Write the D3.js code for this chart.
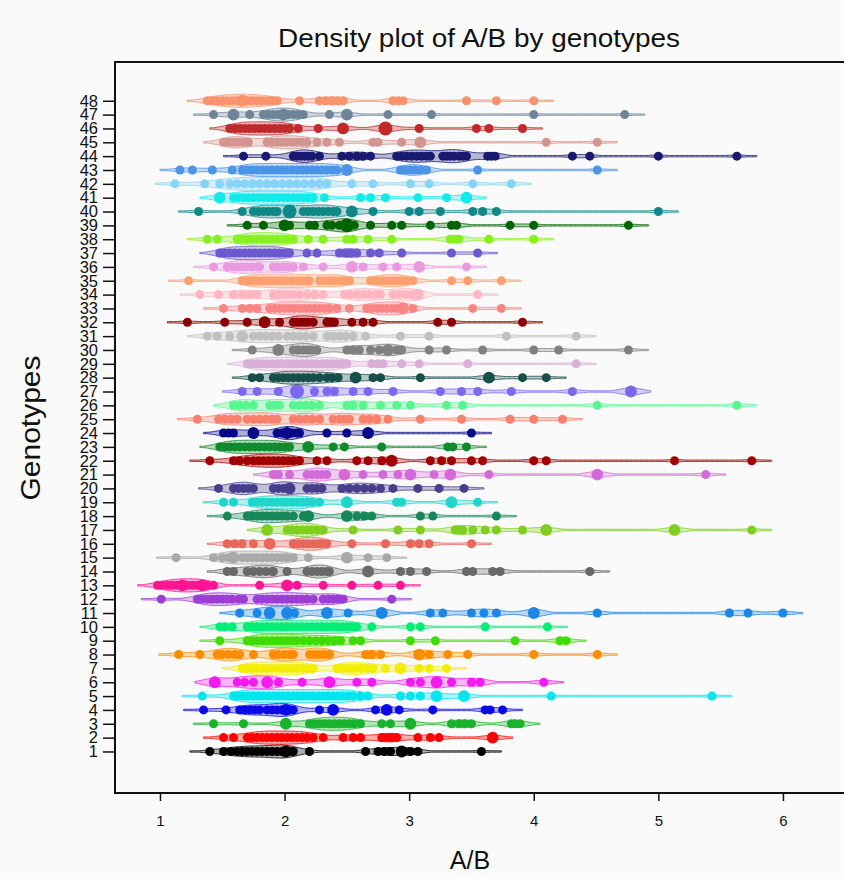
<!DOCTYPE html>
<html>
<head>
<meta charset="utf-8">
<script src="https://cdn.jsdelivr.net/npm/d3@7"></script>
<style>
  body { margin: 0; background: #fafafa; }
  svg { display: block; font-family: "Liberation Sans", Arial, sans-serif; }
</style>
</head>
<body>
<svg id="chart"></svg>
<script>
// tick labels
const genotypes = ['1','2','3','4','5','6','7','8','9','10','11','12','13','14','15','16',
  '17','18','19','20','21','22','23','24','25','26','27','28','29','30','31','32',
  '33','34','35','36','37','38','39','40','41','42','43','44','45','46','47','48']
const xTicks = [1, 2, 3, 4, 5, 6]

const colors = ['#000000','#ff0000','#19b22c','#0a0ae6','#00e5ee','#f51af0','#f2ee00','#ff8c00',
  '#3fdc00','#00ee76','#1c86e6','#9a3ed6','#ff1493','#696969','#a9a9a9','#e8665a',
  '#80cf20','#17875a','#20d5cc','#483d8b','#d46ad8','#a00000','#108a2c','#06088a',
  '#f8806c','#58f590','#7b68ee','#174e4a','#dab0d8','#808080','#c0c0c0','#8b0000',
  '#fa8585','#ffb6c1','#fda070','#ea9ae0','#6a5acd','#88f020','#006400','#118888',
  '#12eaea','#88d4f8','#4c94e6','#191970','#d49590','#c02a2a','#6e8598','#f9936e']

// A/B values per genotype (repeated values = larger dots)
const ab1 = [1.40,1.51,1.57,1.62,1.66,1.70,1.74,1.78,1.82,1.86,1.90,1.94,1.98,2.01,2.01,2.04,2.07,2.20,2.65,2.75,2.80,2.85,2.94,2.94,3.01,3.07,3.58]
const ab2 = [1.51,1.59,1.70,1.74,1.78,1.82,1.86,1.90,1.94,1.98,2.02,2.06,2.10,2.14,2.18,2.23,2.31,2.47,2.55,2.61,2.78,2.82,2.86,2.90,3.07,3.17,3.24,3.67,3.67]
const ab3 = [1.43,1.67,2.01,2.01,2.20,2.24,2.28,2.32,2.36,2.40,2.44,2.48,2.52,2.56,2.61,2.78,2.85,3.01,3.01,3.34,3.40,3.45,3.50,3.82,3.85,3.89]
const ab4 = [1.35,1.53,1.64,1.68,1.72,1.76,1.80,1.86,1.90,1.94,1.98,2.01,2.01,2.04,2.07,2.28,2.39,2.39,2.73,2.82,2.82,2.92,3.19,3.61,3.65,3.75]
const ab5 = [1.34,1.59,1.63,1.67,1.71,1.75,1.79,1.83,1.87,1.91,1.95,1.99,2.03,2.07,2.11,2.15,2.19,2.23,2.27,2.31,2.35,2.39,2.43,2.47,2.51,2.55,2.61,2.67,2.93,3.01,3.09,3.22,3.22,3.44,3.44,4.14,5.43]
const ab6 = [1.44,1.44,1.62,1.68,1.75,1.86,1.86,1.95,2.14,2.36,2.36,2.58,2.70,3.01,3.09,3.22,3.22,3.34,3.50,3.57,4.08]
const ab7 = [1.66,1.70,1.74,1.78,1.82,1.86,1.90,1.94,1.98,2.02,2.06,2.10,2.14,2.18,2.23,2.42,2.46,2.50,2.54,2.58,2.62,2.66,2.71,2.81,2.93,2.93,3.08,3.16,3.30]
const ab8 = [1.15,1.32,1.46,1.50,1.55,1.60,1.64,1.75,1.91,1.95,2.00,2.04,2.07,2.20,2.24,2.28,2.32,2.36,2.65,2.70,2.77,3.08,3.08,3.16,3.31,3.47,4.00,4.51]
const ab9 = [1.48,1.70,1.74,1.78,1.82,1.86,1.90,1.94,1.98,2.02,2.06,2.10,2.15,2.20,2.25,2.30,2.35,2.40,2.45,2.55,2.61,3.01,3.21,3.85,4.21,4.26]
const ab10 = [1.48,1.52,1.58,1.70,1.74,1.78,1.82,1.86,1.90,1.94,1.98,2.02,2.06,2.10,2.14,2.18,2.22,2.26,2.30,2.34,2.38,2.42,2.46,2.50,2.54,2.58,2.70,3.01,3.09,3.61,4.11]
const ab11 = [1.64,1.78,1.88,1.88,2.02,2.02,2.08,2.34,2.34,2.51,2.78,2.78,3.17,3.27,3.50,3.60,3.70,4.00,4.00,4.51,5.57,5.72,6.00]
const ab12 = [1.01,1.30,1.34,1.38,1.42,1.46,1.50,1.54,1.58,1.63,1.67,1.78,1.82,1.86,1.90,1.94,1.98,2.02,2.06,2.10,2.14,2.18,2.23,2.31,2.35,2.39,2.43,2.47,2.86]
const ab13 = [0.98,1.02,1.06,1.10,1.14,1.18,1.18,1.22,1.26,1.30,1.34,1.34,1.38,1.43,1.80,2.02,2.02,2.10,2.31,2.54,2.75,2.93]
const ab14 = [1.54,1.59,1.70,1.75,1.80,1.85,1.90,1.91,2.02,2.18,2.22,2.26,2.30,2.34,2.36,2.67,2.67,2.93,3.01,3.14,3.46,3.51,3.67,3.73,4.45]
const ab15 = [1.13,1.43,1.50,1.55,1.59,1.59,1.66,1.70,1.74,1.78,1.82,1.86,1.90,1.94,1.98,2.02,2.07,2.19,2.50,2.50,2.67,2.82]
const ab16 = [1.54,1.60,1.66,1.75,1.88,1.88,2.07,2.11,2.15,2.19,2.23,2.27,2.30,2.34,2.54,2.81,3.01,3.08,3.16,3.50]
const ab17 = [1.86,1.86,2.02,2.06,2.10,2.14,2.18,2.22,2.26,2.31,2.55,2.91,3.09,3.37,3.40,3.43,3.51,3.61,3.70,3.91,4.10,4.10,5.13,5.13,5.75]
const ab18 = [1.54,1.70,1.74,1.78,1.82,1.86,1.90,1.94,1.98,2.02,2.07,2.15,2.19,2.19,2.50,2.50,2.58,2.64,2.70,3.09,3.19,3.70]
const ab19 = [1.51,1.59,1.74,1.78,1.82,1.86,1.90,1.94,1.98,2.02,2.06,2.10,2.14,2.18,2.22,2.28,2.50,2.50,2.90,2.94,3.34,3.34,3.55]
const ab20 = [1.47,1.59,1.63,1.67,1.71,1.75,1.91,1.95,1.99,2.04,2.04,2.18,2.22,2.26,2.30,2.46,2.52,2.58,2.64,2.70,2.77,2.87,3.07,3.24,3.44]
const ab21 = [1.91,1.95,2.04,2.18,2.22,2.26,2.30,2.34,2.48,2.48,2.63,2.79,2.91,3.01,3.01,3.20,3.33,3.33,3.64,4.51,4.51,5.38]
const ab22 = [1.40,1.59,1.64,1.70,1.75,1.79,1.83,1.87,1.91,1.95,1.99,2.03,2.07,2.12,2.26,2.34,2.58,2.67,2.78,2.86,2.86,3.17,3.26,3.34,3.50,3.59,4.00,4.10,5.13,5.75]
const ab23 = [1.48,1.52,1.56,1.60,1.64,1.68,1.72,1.76,1.80,1.84,1.88,1.92,1.96,2.00,2.04,2.19,2.19,2.39,2.48,2.78,3.31,3.35,3.46]
const ab24 = [1.51,1.55,1.59,1.75,1.75,1.94,1.98,2.02,2.02,2.06,2.10,2.12,2.34,2.50,2.67,2.67,3.50]
const ab25 = [1.30,1.47,1.52,1.57,1.62,1.70,1.75,1.80,1.85,1.90,1.94,2.07,2.12,2.17,2.22,2.28,2.39,2.44,2.48,2.52,2.63,2.68,2.74,2.83,3.09,3.42,3.81,4.00,4.23]
const ab26 = [1.59,1.64,1.69,1.75,1.88,1.92,1.96,2.07,2.12,2.17,2.22,2.28,2.50,2.55,2.63,2.77,2.90,3.01,3.30,3.43,4.51,5.63]
const ab27 = [1.66,1.78,1.95,2.10,2.10,2.10,2.24,2.34,2.40,2.55,2.67,2.87,3.25,3.42,3.55,3.82,4.31,4.78,4.78]
const ab28 = [1.74,1.80,1.91,1.95,1.99,2.03,2.07,2.11,2.15,2.19,2.23,2.28,2.34,2.38,2.43,2.57,2.57,2.71,2.77,3.09,3.64,3.64,3.91,4.10]
const ab29 = [1.70,1.74,1.78,1.82,1.86,1.90,1.94,1.98,2.02,2.06,2.10,2.14,2.18,2.22,2.26,2.30,2.34,2.38,2.42,2.46,2.50,2.70,2.75,2.79,2.94,3.08,3.47,4.34]
const ab30 = [1.74,1.95,1.95,2.07,2.11,2.15,2.19,2.22,2.26,2.50,2.55,2.60,2.69,2.76,2.83,2.83,2.90,2.94,3.16,3.30,3.59,4.00,4.20,4.76]
const ab31 = [1.38,1.46,1.56,1.66,1.66,1.75,1.80,1.85,1.90,1.95,2.02,2.07,2.12,2.17,2.23,2.34,2.39,2.44,2.49,2.55,2.65,2.93,3.16,3.78,4.34]
const ab32 = [1.22,1.52,1.70,1.84,1.84,1.96,2.07,2.10,2.13,2.16,2.19,2.23,2.34,2.37,2.40,2.54,2.63,2.71,3.23,3.34,3.91]
const ab33 = [1.51,1.66,1.72,1.78,1.88,1.92,1.96,2.00,2.04,2.08,2.12,2.16,2.20,2.24,2.28,2.32,2.36,2.42,2.52,2.66,2.70,2.74,2.78,2.82,2.86,2.90,2.95,2.95,3.03,3.51,3.74]
const ab34 = [1.32,1.47,1.59,1.66,1.72,1.78,1.91,1.95,1.99,2.03,2.07,2.12,2.18,2.24,2.31,2.48,2.53,2.58,2.63,2.68,2.73,2.77,2.87,2.92,2.97,3.02,3.07,3.07,3.55]
const ab35 = [1.23,1.66,1.70,1.74,1.78,1.82,1.86,1.90,1.94,1.98,2.02,2.06,2.10,2.14,2.18,2.20,2.28,2.32,2.36,2.40,2.44,2.48,2.52,2.69,2.74,2.78,2.82,2.86,2.90,2.94,2.98,3.03,3.34,3.47,3.74]
const ab36 = [1.43,1.54,1.58,1.62,1.66,1.70,1.74,1.78,1.80,1.91,1.95,1.99,2.03,2.07,2.15,2.31,2.54,2.54,2.63,2.79,2.90,3.08,3.08,3.46]
const ab37 = [1.48,1.52,1.56,1.60,1.64,1.68,1.72,1.76,1.80,1.84,1.88,1.92,1.96,2.00,2.04,2.18,2.26,2.44,2.49,2.53,2.58,2.69,2.76,2.94,3.34,3.55]
const ab38 = [1.38,1.46,1.62,1.66,1.70,1.74,1.78,1.82,1.86,1.90,1.94,1.98,2.02,2.07,2.19,2.31,2.50,2.55,2.67,2.86,3.33,3.37,3.40,3.64,4.00]
const ab39 = [1.70,1.83,2.00,2.00,2.04,2.20,2.24,2.34,2.38,2.44,2.50,2.50,2.50,2.56,2.69,2.86,2.94,3.17,3.34,3.38,3.81,4.00,4.76]
const ab40 = [1.31,1.66,1.75,1.79,1.83,1.87,1.91,1.94,2.04,2.04,2.04,2.15,2.19,2.23,2.27,2.31,2.35,2.39,2.42,2.54,2.54,2.71,3.00,3.08,3.25,3.51,3.59,3.70,5.00]
const ab41 = [1.48,1.48,1.59,1.63,1.67,1.71,1.75,1.79,1.83,1.87,1.91,1.95,1.99,2.03,2.07,2.11,2.15,2.19,2.23,2.32,2.61,2.69,2.81,3.07,3.30,3.46,3.46]
const ab42 = [1.12,1.36,1.48,1.56,1.62,1.68,1.74,1.80,1.86,1.92,1.98,2.04,2.10,2.16,2.22,2.28,2.34,2.54,2.71,3.01,3.16,3.51,3.82]
const ab43 = [1.16,1.26,1.42,1.58,1.66,1.70,1.74,1.78,1.82,1.86,1.90,1.94,1.98,2.02,2.06,2.10,2.14,2.18,2.22,2.26,2.30,2.34,2.38,2.42,2.50,2.50,2.93,2.97,3.01,3.05,3.09,3.14,3.55,4.51]
const ab44 = [1.67,1.85,2.07,2.10,2.13,2.16,2.19,2.22,2.28,2.46,2.52,2.58,2.63,2.69,2.90,2.94,2.98,3.02,3.06,3.10,3.14,3.17,3.27,3.30,3.33,3.36,3.40,3.43,3.46,3.63,3.66,3.69,4.31,4.45,5.00,5.63]
const ab45 = [1.51,1.55,1.59,1.63,1.67,1.71,1.86,1.90,1.94,1.98,2.02,2.06,2.10,2.14,2.18,2.26,2.34,2.44,2.71,2.75,2.94,3.09,3.09,4.10,4.51]
const ab46 = [1.56,1.60,1.64,1.68,1.72,1.76,1.80,1.84,1.88,1.92,1.96,2.00,2.04,2.11,2.27,2.47,2.47,2.81,2.81,2.81,3.08,3.54,3.64,3.91]
const ab47 = [1.43,1.59,1.59,1.72,1.83,1.87,1.91,1.95,1.99,1.99,2.03,2.07,2.11,2.15,2.36,2.50,2.50,2.83,3.18,4.00,4.73]
const ab48 = [1.38,1.42,1.46,1.50,1.54,1.58,1.62,1.66,1.66,1.70,1.74,1.78,1.82,1.86,1.90,1.94,2.12,2.28,2.33,2.38,2.43,2.47,2.87,2.91,2.95,3.46,3.70,4.00]

const series = [ab1, ab2, ab3, ab4, ab5, ab6, ab7, ab8, ab9, ab10, ab11, ab12, ab13, ab14, ab15, ab16,
  ab17, ab18, ab19, ab20, ab21, ab22, ab23, ab24, ab25, ab26, ab27, ab28, ab29, ab30, ab31, ab32,
  ab33, ab34, ab35, ab36, ab37, ab38, ab39, ab40, ab41, ab42, ab43, ab44, ab45, ab46, ab47, ab48]

const width = 844
const height = 879
const plotLeft = 115, plotRight = 845, plotTop = 62, plotBottom = 793

const svg = d3.select('#chart')
    .attr('width', width)
    .attr('height', height)

const x = d3.scaleLinear().domain([0.639, 6.498]).range([plotLeft, plotRight])
const y = d3.scaleLinear().domain([-2, 50.8]).range([plotBottom, plotTop])

// kernel density estimate for the bean outline
const bw = 0.09
const gauss = u => Math.exp(-0.5 * u * u)
function density(vals) {
    const lo = d3.min(vals) - 0.16, hi = d3.max(vals) + 0.16
    const pts = []
    for (let t = lo; t <= hi + 1e-9; t += 0.01) {
        pts.push([t, d3.sum(vals, v => gauss((t - v) / bw))])
    }
    const m = d3.max(pts, p => p[1])
    return pts.map(p => [p[0], p[1] / m])
}

const beanHalf = 6.6
const r = d3.scaleSqrt().domain([1, 3]).range([4.5, 7]).clamp(true)

const plot = svg.append('g')

series.forEach(function (vals, i) {
    const row = i + 1
    const col = colors[i]
    const cy = y(row)
    const dens = density(vals)
    const g = plot.append('g')

    const area = d3.area()
        .x(d => x(d[0]))
        .y0(d => cy - Math.max(0.7, d[1] * beanHalf))
        .y1(d => cy + Math.max(0.7, d[1] * beanHalf))
        .curve(d3.curveBasis)

    g.append('path')
        .attr('d', area(dens))
        .attr('fill', col)
        .attr('fill-opacity', 0.3)
        .attr('stroke', col)
        .attr('stroke-opacity', 0.8)
        .attr('stroke-width', 1)

    // bean lines
    g.selectAll('line.bl')
        .data(vals)
        .join('line')
        .attr('class', 'bl')
        .attr('x1', d => x(d)).attr('x2', d => x(d))
        .attr('y1', cy - 4).attr('y2', cy + 4)
        .attr('stroke', 'white')
        .attr('stroke-opacity', 0.8)
        .attr('stroke-width', 1)

    const counts = d3.rollups(vals, v => v.length, v => v.toFixed(2))
    g.selectAll('circle')
        .data(counts)
        .join('circle')
        .attr('cx', d => x(+d[0]))
        .attr('cy', cy)
        .attr('r', d => r(d[1]))
        .attr('fill', col)
})

// frame
svg.append('path')
    .attr('d', `M${plotRight},${plotTop}H${plotLeft}V${plotBottom}H${plotRight}`)
    .attr('fill', 'none')
    .attr('stroke', '#111')
    .attr('stroke-width', 2)

const yAxis = svg.append('g')
    .attr('transform', `translate(${plotLeft - 1},0)`)
    .call(d3.axisLeft(y).tickValues(genotypes.map(Number)).tickFormat((d, i) => genotypes[i])
        .tickSize(11).tickSizeOuter(0).tickPadding(5))
yAxis.select('.domain').remove()
yAxis.selectAll('line').attr('stroke', '#111').attr('stroke-width', 1.5)
yAxis.selectAll('text').attr('font-size', 16.5).attr('fill', '#111')
    .attr('font-family', '"Liberation Sans", Arial, sans-serif')

const xAxis = svg.append('g')
    .attr('transform', `translate(0,${plotBottom + 1})`)
    .call(d3.axisBottom(x).tickValues(xTicks).tickFormat(d3.format('d'))
        .tickSize(7).tickSizeOuter(0).tickPadding(14))
xAxis.select('.domain').remove()
xAxis.selectAll('line').attr('stroke', '#111').attr('stroke-width', 1.5)
xAxis.selectAll('text').attr('font-size', 15).attr('fill', '#111')
    .attr('font-family', '"Liberation Sans", Arial, sans-serif')

svg.append('text')
    .attr('x', 479).attr('y', 47)
    .attr('text-anchor', 'middle')
    .attr('font-size', 25)
    .attr('textLength', 402)
    .attr('lengthAdjust', 'spacingAndGlyphs')
    .attr('fill', '#111')
    .text('Density plot of A/B by genotypes')

svg.append('text')
    .attr('x', 470).attr('y', 869)
    .attr('text-anchor', 'middle')
    .attr('font-size', 25)
    .attr('fill', '#111')
    .text('A/B')

svg.append('text')
    .attr('transform', 'translate(40,428) rotate(-90)')
    .attr('text-anchor', 'middle')
    .attr('font-size', 27)
    .attr('textLength', 145)
    .attr('lengthAdjust', 'spacingAndGlyphs')
    .attr('fill', '#111')
    .text('Genotypes')
</script>
</body>
</html>
